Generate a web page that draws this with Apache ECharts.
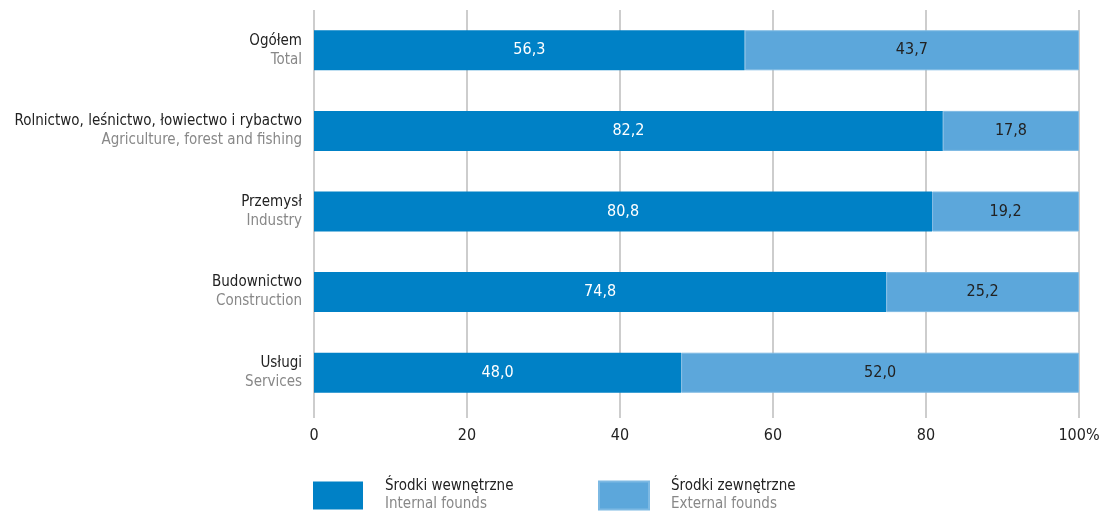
<!DOCTYPE html>
<html><head><meta charset="utf-8">
<script src="https://cdn.jsdelivr.net/npm/echarts@6/dist/echarts.min.js"></script>
<style>html,body{margin:0;padding:0;background:#fff}#c{width:1102px;height:513px}</style>
</head><body><div id="c"></div>
<script>
const categoriesPl = ['Ogółem', 'Rolnictwo, leśnictwo, łowiectwo i rybactwo', 'Przemysł', 'Budownictwo', 'Usługi'];
const categoriesEn = ['Total', 'Agriculture, forest and fishing', 'Industry', 'Construction', 'Services'];
const internalFunds = [56.3, 82.2, 80.8, 74.8, 48.0];
const externalFunds = [43.7, 17.8, 19.2, 25.2, 52.0];
const seriesNamesPl = ['Środki wewnętrzne', 'Środki zewnętrzne'];
const seriesNamesEn = ['Internal founds', 'External founds'];

const FONT = '"DejaVu Sans Condensed", "Liberation Sans", sans-serif';
const FS = 15;
const cats = categoriesPl.map((p, i) => p + '|' + categoriesEn[i]);
const fmt = v => v.toFixed(1).replace('.', ',');

const chart = echarts.init(document.getElementById('c'));
function legendFor(i, left) {
  return {
    data: [seriesNamesPl[i]], left: left, top: 479, padding: 0, itemWidth: 50, itemHeight: 28,
    icon: 'rect', selectedMode: false, itemGap: 0,
    formatter: n => '{a|' + n + '}\n{b|' + seriesNamesEn[i] + '}',
    textStyle: {
      fontFamily: FONT, padding: [0, 0, 0, 17],
      rich: {
        a: { fontFamily: FONT, fontSize: FS, color: '#222', lineHeight: 18 },
        b: { fontFamily: FONT, fontSize: FS, color: '#888', lineHeight: 18 }
      }
    }
  };
}
chart.setOption({
  animation: false,
  grid: { left: 314, right: 23, top: 10, bottom: 100, containLabel: false, outerBoundsMode: 'none' },
  legend: [legendFor(0, 313), legendFor(1, 598)],
  xAxis: {
    type: 'value', min: 0, max: 100, interval: 20,
    axisLine: { show: false },
    axisTick: { show: true, length: 5, lineStyle: { color: '#bdbdbd', width: 1.5 } },
    splitLine: { show: true, lineStyle: { color: '#bdbdbd', width: 1.5 } },
    axisLabel: { margin: 15, fontFamily: FONT, fontSize: 16, color: '#222',
      formatter: v => v === 100 ? '100%' : String(v) }
  },
  yAxis: {
    type: 'category', data: cats, inverse: true,
    axisLine: { show: false }, axisTick: { show: false },
    axisLabel: {
      margin: 12, align: 'right',
      formatter: v => { const [p, e] = v.split('|'); return '{a|' + p + '}\n{b|' + e + '}'; },
      rich: {
        a: { fontFamily: FONT, fontSize: FS, color: '#222', lineHeight: 19, align: 'right' },
        b: { fontFamily: FONT, fontSize: FS, color: '#888', lineHeight: 19, align: 'right' }
      }
    }
  },
  series: [
    { name: seriesNamesPl[0], type: 'bar', stack: 's', data: internalFunds, barWidth: 40,
      itemStyle: { color: '#0081C6' },
      label: { show: true, position: 'inside', color: '#fff', fontFamily: FONT, fontSize: 16, formatter: p => fmt(p.value) } },
    { name: seriesNamesPl[1], type: 'bar', stack: 's', data: externalFunds, barWidth: 40,
      itemStyle: { color: '#5CA7DB', borderColor: '#7DB9E3', borderWidth: 1 },
      label: { show: true, position: 'inside', color: '#222', fontFamily: FONT, fontSize: 16, formatter: p => fmt(p.value) } }
  ]
});
</script></body></html>
